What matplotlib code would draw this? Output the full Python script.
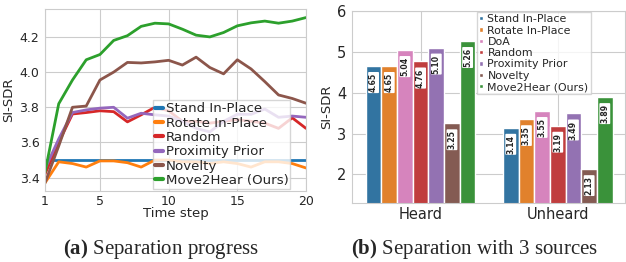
import numpy as np
import matplotlib
matplotlib.use("Agg")
import matplotlib.pyplot as plt
import seaborn as sns

sns.set_style("whitegrid")
plt.rcParams['font.family'] = ['DejaVu Sans']
plt.rcParams['mathtext.fontset'] = 'custom'
plt.rcParams['mathtext.bf'] = 'Liberation Serif:bold'
plt.rcParams['mathtext.rm'] = 'Liberation Serif'

# ---------------- data: (a) separation progress ----------------
steps = list(range(1, 21))
stand = [3.50] * 20
rotate = [3.37, 3.49, 3.48, 3.46, 3.495, 3.495, 3.485, 3.46, 3.50, 3.50,
          3.49, 3.49, 3.48, 3.49, 3.48, 3.46, 3.49, 3.49, 3.48, 3.455]
random_ = [3.42, 3.60, 3.762, 3.77, 3.78, 3.775, 3.717, 3.757, 3.80, 3.78,
           3.72, 3.72, 3.71, 3.72, 3.73, 3.72, 3.71, 3.68, 3.74, 3.68]
proximity = [3.45, 3.62, 3.77, 3.785, 3.795, 3.80, 3.738, 3.766, 3.757, 3.75,
             3.72, 3.68, 3.66, 3.72, 3.76, 3.76, 3.79, 3.743, 3.75, 3.743]
novelty = [3.37, 3.58, 3.80, 3.807, 3.955, 4.00, 4.055, 4.052, 4.058, 4.067,
           4.04, 4.085, 4.026, 3.99, 4.07, 4.018, 3.946, 3.87, 3.85, 3.823]
move2hear = [3.43, 3.82, 3.955, 4.07, 4.10, 4.18, 4.207, 4.26, 4.278, 4.274,
             4.244, 4.21, 4.20, 4.225, 4.263, 4.28, 4.29, 4.278, 4.29, 4.31]
line_labels = ["Stand In-Place", "Rotate In-Place", "Random", "Proximity Prior",
               "Novelty", "Move2Hear (Ours)"]

# ---------------- data: (b) separation with 3 sources ----------------
groups = ["Heard", "Unheard"]
methods = ["Stand In-Place", "Rotate In-Place", "DoA", "Random",
           "Proximity Prior", "Novelty", "Move2Hear (Ours)"]
heard = [4.65, 4.65, 5.04, 4.76, 5.10, 3.25, 5.26]
unheard = [3.14, 3.35, 3.55, 3.19, 3.49, 2.13, 3.89]

W, H = 626, 262
fig = plt.figure(figsize=(W / 100, H / 100), dpi=100)

def fx(px):
    return px / W

def fy(py):
    return 1 - py / H

tab = sns.color_palette("tab10")
line_colors = [tab[0], tab[1], tab[3], tab[4], tab[5], tab[2]]

ax1 = fig.add_axes([fx(45), fy(191), fx(306 - 45), (191 - 9.3) / H])
series = [stand, rotate, random_, proximity, novelty, move2hear]
for s, c, lab in zip(series, line_colors, line_labels):
    ax1.plot(steps, s, color=c, lw=2.0, label=lab)
ax1.set_xlim(1, 20)
ax1.set_ylim(3.324, 4.357)
ax1.set_xticks([1, 5, 10, 15, 20])
ax1.set_yticks([3.4, 3.6, 3.8, 4.0, 4.2])
ax1.tick_params(axis='both', labelsize=9, pad=0.5)
ax1.tick_params(axis='x', pad=-0.5)
ax1.set_xlabel("Time step", fontsize=9.5, labelpad=-1)
ax1.set_ylabel("SI-SDR", fontsize=9.5, labelpad=3)
for sp in ax1.spines.values():
    sp.set_color('#cccccc')
leg1 = ax1.legend(loc='lower left', bbox_to_anchor=(fx(153), fy(189)),
                  bbox_transform=fig.transFigure, fontsize=9.6,
                  labelspacing=0.1, handlelength=0.6, handletextpad=0.2,
                  borderpad=0.15, borderaxespad=0, framealpha=0.8,
                  fancybox=False)
for lh in leg1.get_lines():
    lh.set_linewidth(3)

# ---------------- (b) bars ----------------
bar_colors_raw = [tab[0], tab[1], tab[6], tab[3], tab[4], tab[5], tab[2]]
bar_colors = [sns.desaturate(c, 0.75) for c in bar_colors_raw]
ax2 = fig.add_axes([fx(352), fy(202.7), fx(625 - 352), (202.7 - 10.7) / H])
n = len(methods)
w = 0.8 / n
xs = np.arange(len(groups))
for i, (m, c) in enumerate(zip(methods, bar_colors)):
    vals = [heard[i], unheard[i]]
    pos = xs + (i - (n - 1) / 2) * w
    ax2.bar(pos, vals, width=w, color=c, edgecolor='white', linewidth=1.0,
            label=m, zorder=2)
    for p, v in zip(pos, vals):
        ax2.text(p, v - 0.17, f"{v:.2f}", rotation=90, ha='center', va='top',
                 fontsize=5.6, fontweight='bold', zorder=3, clip_on=True,
                 bbox=dict(boxstyle='round,pad=0.12', fc='white', ec='none'))
ax2.set_xlim(-0.5, 1.49)
ax2.set_ylim(1.31, 6)
ax2.set_xticks(xs)
ax2.set_xticklabels(groups)
ax2.set_yticks([2, 3, 4, 5, 6])
ax2.tick_params(axis='both', labelsize=10.5, pad=0.5)
ax2.tick_params(axis='x', pad=-0.5)
ax2.set_ylabel("SI-SDR", fontsize=9.5, labelpad=3)
for sp in ax2.spines.values():
    sp.set_color('#cccccc')
ax2.set_axisbelow(True)
leg2 = ax2.legend(loc='upper left', bbox_to_anchor=(fx(477), fy(12)),
                  bbox_transform=fig.transFigure, fontsize=7.9,
                  labelspacing=0.12, handlelength=0.35, handleheight=0.25,
                  handletextpad=0.4, borderpad=0.2, borderaxespad=0,
                  framealpha=0.8, fancybox=False)

# ---------------- captions ----------------
fig.text(fx(161), fy(249), r"$\mathbf{(a)}$ Separation progress",
         ha='center', va='center', fontsize=15, family='Liberation Serif')
fig.text(fx(475), fy(249), r"$\mathbf{(b)}$ Separation with 3 sources",
         ha='center', va='center', fontsize=15, family='Liberation Serif')

fig.savefig("out.png", dpi=100)
